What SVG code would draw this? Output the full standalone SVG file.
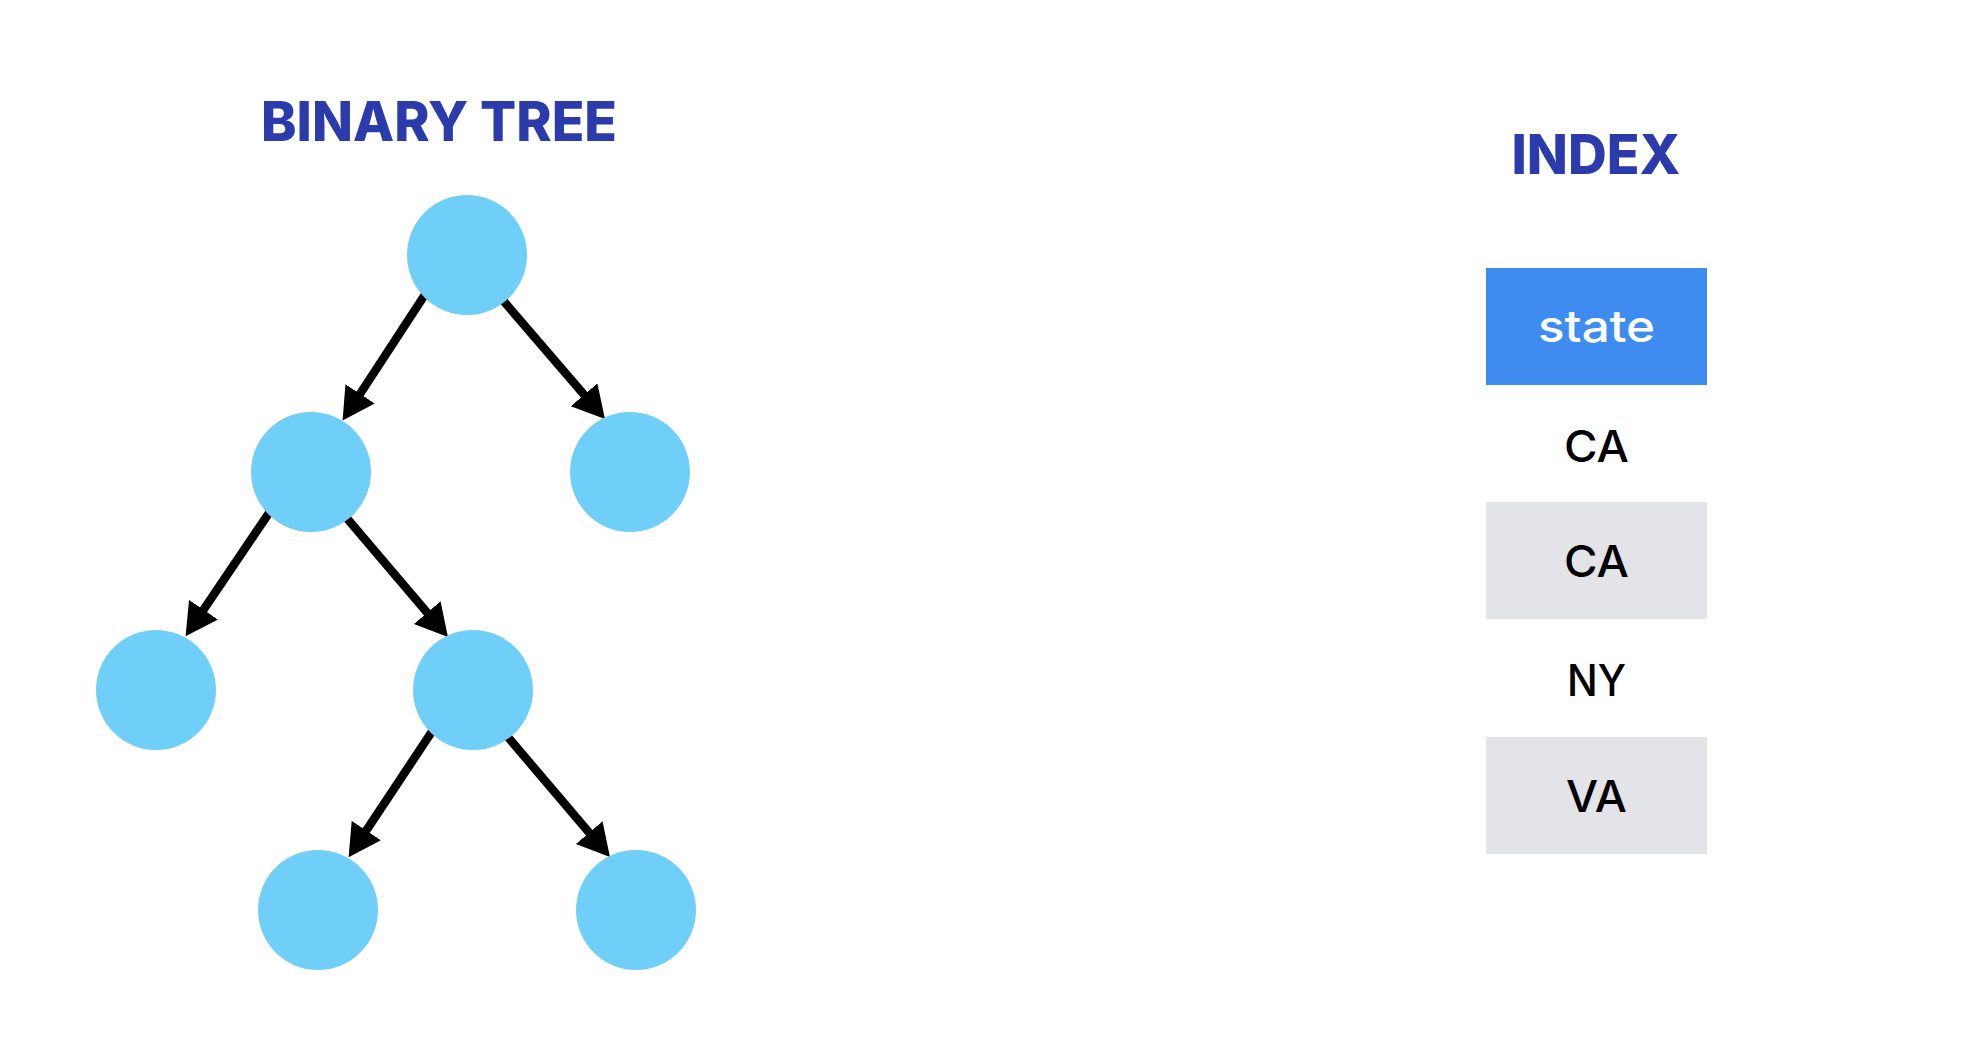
<svg xmlns="http://www.w3.org/2000/svg" width="1969" height="1051" viewBox="0 0 1969 1051">
<style>
.title{font-family:Inter,"Liberation Sans",Arial,sans-serif;font-weight:800;font-size:55px;fill:#2b3bab;text-anchor:middle}
.node{fill:#70cff9}
.edge{stroke:#000;stroke-width:8.5;fill:none;marker-end:url(#arrow)}
.item{font-family:Inter,"Liberation Sans",Arial,sans-serif;font-weight:500;font-size:44px;fill:#000;text-anchor:middle}
.gray{fill:#e3e4e7}
</style>
<defs>
<marker id="arrow" markerUnits="userSpaceOnUse" markerWidth="34" markerHeight="36" refX="2" refY="17.5" orient="auto">
<path d="M0,0 L32,17.5 L0,35 z" fill="#000"/>
</marker>
</defs>
<rect width="1969" height="1051" fill="#fff"/>
<text class="title" x="439" y="141" textLength="356" lengthAdjust="spacingAndGlyphs">BINARY TREE</text>
<text class="title" x="1596" y="174" textLength="169" lengthAdjust="spacingAndGlyphs">INDEX</text>
<g id="connectors">
<line class="edge" x1="426" y1="293" x2="359" y2="395.5"/>
<line class="edge" x1="501" y1="298" x2="585.4" y2="396.3"/>
<line class="edge" x1="271" y1="510" x2="202.4" y2="611.4"/>
<line class="edge" x1="345" y1="516" x2="428.5" y2="614.2"/>
<line class="edge" x1="433" y1="730" x2="365.2" y2="832.2"/>
<line class="edge" x1="507" y1="736" x2="590.5" y2="834.2"/>
</g>
<g id="n-root"><circle class="node" cx="467" cy="255" r="60"/></g>
<g id="n-l1-left"><circle class="node" cx="311" cy="472" r="60"/></g>
<g id="n-l1-right"><circle class="node" cx="630" cy="472" r="60"/></g>
<g id="n-l2-left"><circle class="node" cx="156" cy="690" r="60"/></g>
<g id="n-l2-mid"><circle class="node" cx="473" cy="690" r="60"/></g>
<g id="n-l3-left"><circle class="node" cx="318" cy="910" r="60"/></g>
<g id="n-l3-right"><circle class="node" cx="636" cy="910" r="60"/></g>
<g id="index-state"><rect x="1486" y="268" width="221" height="117" fill="#3f8cf1"/><text class="item" x="1596.5" y="342" style="fill:#fff" textLength="117" lengthAdjust="spacingAndGlyphs">state</text></g>
<g id="index-ca1"><text class="item" x="1596.5" y="462" textLength="65" lengthAdjust="spacingAndGlyphs">CA</text></g>
<g id="index-ca2"><rect class="gray" x="1486" y="502" width="221" height="117"/><text class="item" x="1596.5" y="577" textLength="65" lengthAdjust="spacingAndGlyphs">CA</text></g>
<g id="index-ny"><text class="item" x="1596.5" y="696" textLength="59" lengthAdjust="spacingAndGlyphs">NY</text></g>
<g id="index-va"><rect class="gray" x="1486" y="737" width="221" height="117"/><text class="item" x="1596.5" y="812" textLength="61" lengthAdjust="spacingAndGlyphs">VA</text></g>
</svg>
